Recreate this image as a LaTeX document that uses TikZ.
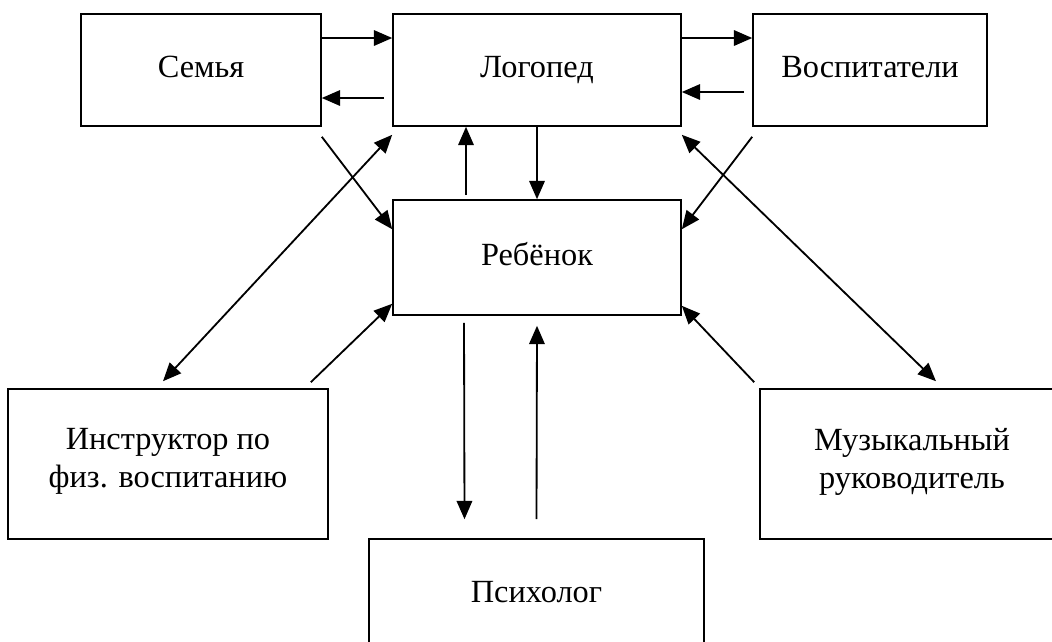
\documentclass[tikz,border=0pt]{standalone}
\usepackage{fontspec}
\setmainfont{Liberation Serif}
\usetikzlibrary{calc,arrows.meta}

\begin{document}
\begin{tikzpicture}[x=0.025cm,y=-0.025cm,
    box/.style={draw,line width=1.1pt,align=center,inner sep=0pt,
      font=\fontsize{23}{27}\selectfont,execute at begin node=\strut},
    arr/.style={line width=1.3pt,-{Triangle[length=13pt,width=11pt]}},
    dblarr/.style={line width=1.3pt,{Triangle[length=13pt,width=11pt]}-{Triangle[length=13pt,width=11pt]}}]
      \clip (0,0) rectangle (1052,641);
      % boxes
      \node[box,minimum width=6cm,minimum height=2.8cm] (semya) at (201,70) {Семья};
      \node[box,minimum width=7.2cm,minimum height=2.8cm] (logoped) at (537,70) {Логопед};
      \node[box,minimum width=5.85cm,minimum height=2.8cm] (vosp) at (870,70) {Воспитатели};
      \node[box,minimum width=7.2cm,minimum height=2.875cm] (rebenok) at (537,257.5) {Ребёнок};
      \node[box,minimum width=8cm,minimum height=3.75cm] (instr) at (168,464) {Инструктор по\\физ. воспитанию};
      \node[box,minimum width=7.6cm,minimum height=3.75cm] (muz) at (912,464) {Музыкальный\\руководитель};
      \node[box,minimum width=8.375cm,minimum height=2.8cm] (psych) at (536.5,595) {Психолог};
      % top row
      \draw[arr] ($(semya.east)+(0,-32)$) -- ($(logoped.west)+(0,-32)$);
      \draw[arr] ($(logoped.west)+(-8,28)$) -- ($(semya.east)+(0,28)$);
      \draw[arr] ($(logoped.east)+(0,-32)$) -- ($(vosp.west)+(0,-32)$);
      \draw[arr] ($(vosp.west)+(-8,22)$) -- ($(logoped.east)+(0,22)$);
      % logoped and child
      \draw[arr] (logoped.south) -- (rebenok.north);
      \draw[arr] ($(rebenok.north)+(-71,-4)$) -- ($(logoped.south)+(-71,0)$);
      % diagonals
      \draw[arr] ($(semya.south east)+(0,10)$) -- ($(rebenok.north west)+(0,30)$);
      \draw[arr] ($(vosp.south west)+(0,10)$) -- ($(rebenok.north east)+(0,30)$);
      \draw[dblarr] ($(instr.north)+(-5,-7)$) -- ($(logoped.south west)+(0,8)$);
      \draw[dblarr] ($(muz.north)+(24,-7)$) -- ($(logoped.south east)+(0,8)$);
      \draw[arr] ($(instr.north east)+(-18,-6)$) -- ($(rebenok.south west)+(0,-12)$);
      \draw[arr] ($(muz.north west)+(-5,-6)$) -- ($(rebenok.south east)+(0,-10)$);
      % child and psychologist
      \draw[arr] ($(rebenok.south)+(-73,7)$) -- ($(psych.north)+(-72,-19)$);
      \draw[arr] ($(psych.north)+(0,-19)$) -- ($(rebenok.south)+(0,10)$);
\end{tikzpicture}
\end{document}
